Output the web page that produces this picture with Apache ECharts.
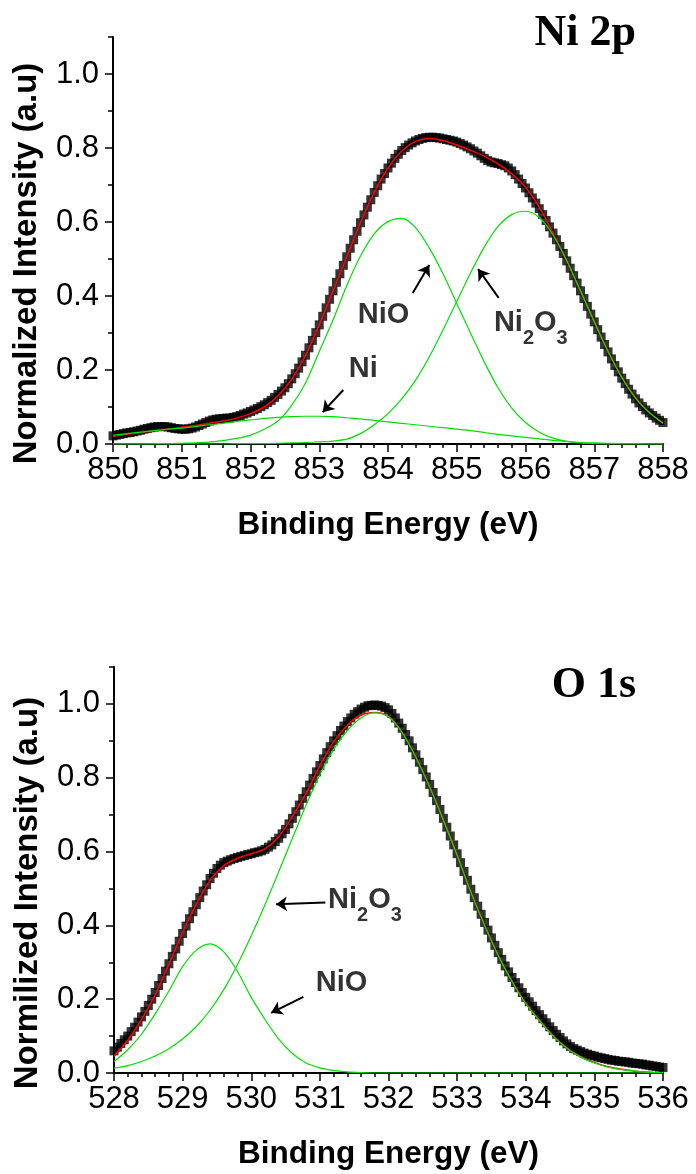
<!DOCTYPE html>
<html>
<head>
<meta charset="utf-8">
<script src="https://cdn.jsdelivr.net/npm/echarts@6/dist/echarts.min.js"></script>
<style>
html, body { margin: 0; padding: 0; background: #fff; }
#main { width: 696px; height: 1174px; }
</style>
</head>
<body>
<div id="main"></div>
<script>
// ---- Ni 2p panel (binding energy 850 - 858 eV) ----
var niStart = 850, niStep = 0.05, niFitStep = 0.2;
// measured spectrum, one value every 0.05 eV
var niData = [
  .022,.024,.026,.028,.030,.031,.033,.035,.037,.040,
  .042,.044,.046,.047,.047,.047,.046,.044,.042,.041,
  .040,.040,.041,.043,.046,.050,.054,.058,.062,.065,
  .067,.068,.069,.070,.070,.072,.074,.077,.081,.084,
  .088,.092,.096,.101,.106,.112,.118,.126,.134,.143,
  .152,.163,.176,.190,.205,.222,.240,.260,.280,.301,
  .322,.345,.368,.391,.414,.437,.460,.483,.506,.529,
  .552,.575,.598,.619,.640,.660,.680,.698,.716,.731,
  .746,.759,.772,.783,.793,.801,.808,.814,.819,.823,
  .826,.828,.829,.829,.828,.827,.825,.823,.821,.819,
  .816,.812,.808,.803,.798,.792,.786,.779,.772,.766,
  .762,.760,.758,.755,.752,.746,.738,.728,.716,.704,
  .692,.679,.665,.651,.636,.620,.604,.587,.570,.552,
  .534,.515,.495,.475,.455,.435,.414,.393,.372,.351,
  .330,.309,.289,.269,.249,.230,.212,.195,.178,.163,
  .148,.135,.122,.111,.101,.092,.084,.077,.070,.064,
  .058
];
// fit envelope and components, one value every 0.2 eV
var niFit = [
  .020,.026,.031,.036,.040,.045,.050,.056,.062,.070,
  .082,.100,.130,.175,.240,.322,.414,.506,.598,.680,
  .746,.792,.818,.826,.820,.808,.794,.778,.757,.730,
  .694,.640,.570,.494,.414,.332,.252,.182,.126,.086,
  .058
];
var niMetal = [
  .024,.028,.032,.036,.040,.043,.047,.052,.056,.061,
  .065,.069,.072,.074,.075,.075,.074,.071,.068,.064,
  .060,.056,.052,.048,.044,.040,.036,.031,.026,.022,
  .018,.014,.010,.007,.004,.003,.002,.001,.001,.000,
  .000
];
var niNiO = [
  .000,.000,.000,.001,.001,.002,.003,.005,.009,.015,
  .024,.040,.062,.105,.165,.250,.335,.428,.508,.568,
  .601,.610,.585,.530,.460,.380,.300,.222,.152,.097,
  .058,.032,.016,.007,.003,.001,.000,.000,.000,.000,
  .000
];
var niNi2O3 = [
  .000,.000,.000,.000,.000,.000,.000,.000,.000,.001,
  .001,.001,.002,.003,.004,.006,.008,.013,.028,.052,
  .082,.122,.172,.235,.308,.385,.462,.532,.588,.620,
  .629,.612,.565,.496,.414,.330,.250,.180,.124,.085,
  .056
];

// ---- O 1s panel (binding energy 528 - 536 eV) ----
var oStart = 528, oStep = 0.05, oFitStep = 0.2;
var oData = [
  .060,.070,.080,.090,.100,.112,.124,.138,.152,.167,
  .183,.200,.218,.237,.256,.276,.296,.316,.336,.357,
  .378,.398,.418,.437,.456,.475,.493,.510,.527,.541,
  .554,.563,.570,.574,.578,.581,.584,.587,.589,.592,
  .594,.597,.599,.602,.606,.612,.618,.627,.636,.648,
  .660,.675,.690,.708,.726,.744,.762,.780,.798,.816,
  .833,.851,.868,.884,.900,.914,.928,.940,.952,.962,
  .972,.979,.986,.991,.995,.996,.997,.996,.994,.990,
  .984,.974,.962,.948,.934,.917,.900,.881,.862,.842,
  .822,.802,.782,.760,.738,.714,.690,.666,.642,.618,
  .594,.570,.546,.522,.498,.475,.452,.430,.408,.387,
  .366,.346,.326,.308,.290,.274,.259,.245,.231,.218,
  .205,.193,.181,.169,.158,.147,.136,.125,.115,.105,
  .096,.087,.079,.072,.066,.062,.058,.054,.051,.048,
  .046,.043,.041,.039,.037,.035,.034,.032,.031,.030,
  .029,.027,.026,.025,.024,.022,.021,.019,.018,.016,
  .015
];
var oFit = [
  .045,.088,.145,.212,.295,.380,.458,.522,.562,.582,
  .594,.607,.640,.695,.758,.832,.897,.942,.970,.977,
  .966,.923,.856,.776,.686,.591,.491,.401,.319,.249,
  .189,.143,.101,.068,.044,.028,.017,.010,.005,.002,
  .001
];
var oNiO = [
  .031,.063,.105,.160,.222,.288,.333,.350,.328,.275,
  .205,.145,.092,.053,.027,.014,.007,.003,.001,.000,
  .000,.000,.000,.000,.000,.000,.000,.000,.000,.000,
  .000,.000,.000,.000,.000,.000,.000,.000,.000,.000,
  .000
];
var oNi2O3 = [
  .013,.020,.031,.046,.066,.092,.126,.170,.226,.294,
  .372,.456,.545,.636,.726,.808,.876,.928,.962,.976,
  .965,.922,.855,.775,.685,.590,.490,.400,.318,.248,
  .188,.142,.100,.067,.043,.027,.016,.009,.005,.002,
  .001
];

var yTicks = [0, 0.2, 0.4, 0.6, 0.8, 1.0];

// label anchors (left edge, vertical middle) and arrows, in data units
var niNotes = [
  { value: [853.56, 0.349], text: 'NiO' },
  { value: [853.43, 0.203], text: 'Ni' },
  { value: [855.54, 0.311], text: '{m|Ni}{s|2}{m|O}{s|3}' }
];
var niArrows = [
  [[854.36, 0.408], [854.60, 0.484]],
  [[855.61, 0.395], [855.31, 0.473]],
  [[853.35, 0.146], [853.05, 0.086]]
];
var oNotes = [
  { value: [531.12, 0.454], text: '{m|Ni}{s|2}{m|O}{s|3}' },
  { value: [530.94, 0.243], text: 'NiO' }
];
var oArrows = [
  [[531.08, 0.462], [530.36, 0.457]],
  [[530.76, 0.206], [530.29, 0.163]]
];

var sans = 'Liberation Sans, Arial, sans-serif';
var serif = 'Liberation Serif, Times New Roman, serif';

function pairs(start, step, vals) {
  return vals.map(function (v, i) { return [+(start + i * step).toFixed(2), v]; });
}

function xAxisFor(g, min, max) {
  return {
    gridIndex: g, type: 'value', min: min, max: max, interval: 1,
    name: 'Binding Energy (eV)', nameLocation: 'middle', nameGap: 65,
    nameTextStyle: { fontSize: 31.5, fontWeight: 'bold', color: '#000', fontFamily: sans },
    axisLine: { onZero: false, lineStyle: { color: '#000', width: 2 } },
    axisTick: { length: 8, lineStyle: { color: '#000', width: 1.5 } },
    minorTick: { show: true, splitNumber: 5, length: 4, lineStyle: { color: '#000', width: 1.5 } },
    axisLabel: { fontSize: 31, color: '#000', margin: 11, fontFamily: sans },
    splitLine: { show: false }
  };
}

function yAxesFor(g, title) {
  return [{
    gridIndex: g, type: 'value', position: 'left', min: 0, max: 1.1, interval: 0.1,
    name: title, nameLocation: 'middle', nameGap: 70,
    nameTextStyle: { fontSize: 33, fontWeight: 'bold', color: '#000', fontFamily: sans, padding: [0, 46, 0, 0] },
    axisLine: { onZero: false, lineStyle: { color: '#000', width: 2 } },
    axisTick: { length: 5, lineStyle: { color: '#000', width: 1.5 } },
    axisLabel: {
      fontSize: 31, color: '#000', margin: 14, fontFamily: sans,
      formatter: function (v) {
        var t = Math.round(v * 10);
        return (t % 2 === 0 && t <= 10) ? (t / 10).toFixed(1) : '';
      }
    },
    splitLine: { show: false }
  }, {
    gridIndex: g, type: 'value', position: 'left', min: 0, max: 1.1, interval: 0.1,
    axisLine: { show: false },
    axisTick: { show: true, customValues: yTicks, length: 8, lineStyle: { color: '#000', width: 1.5 } },
    axisLabel: { show: false },
    splitLine: { show: false }
  }];
}

function panelSeries(g, start, step, fitStep, data, fit, comps, notes, arrows) {
  var s = [{
    type: 'scatter', xAxisIndex: g, yAxisIndex: 2 * g, z: 2,
    symbol: 'rect', symbolSize: 9, itemStyle: { color: '#000' },
    data: pairs(start, step, data)
  }, {
    type: 'line', xAxisIndex: g, yAxisIndex: 2 * g, z: 3, smooth: 0.3,
    showSymbol: false, lineStyle: { color: '#ff0000', width: 1.5 },
    data: pairs(start, fitStep, fit)
  }];
  comps.forEach(function (c) {
    s.push({
      type: 'line', xAxisIndex: g, yAxisIndex: 2 * g, z: 4, smooth: 0.3,
      showSymbol: false, lineStyle: { color: '#00e000', width: 1.2 },
      data: pairs(start, fitStep, c)
    });
  });
  s.push({
    type: 'scatter', xAxisIndex: g, yAxisIndex: 2 * g, z: 5, silent: true,
    symbolSize: 0, itemStyle: { color: 'rgba(0,0,0,0)' },
    label: {
      show: true, position: 'right', distance: 0,
      color: '#000', fontSize: 29, fontWeight: 'bold', fontFamily: sans,
      formatter: function (p) { return p.data.text; },
      rich: {
        m: { fontSize: 29, fontWeight: 'bold', fontFamily: sans, color: '#000', lineHeight: 40, verticalAlign: 'top' },
        s: { fontSize: 20, fontWeight: 'bold', fontFamily: sans, color: '#000', lineHeight: 40, verticalAlign: 'bottom' }
      }
    },
    data: notes,
    markLine: {
      silent: true, symbol: ['none', 'arrow'], symbolSize: 11,
      lineStyle: { color: '#000', width: 2, type: 'solid' },
      label: { show: false },
      data: arrows.map(function (a) { return [{ coord: a[0] }, { coord: a[1] }]; })
    }
  });
  return s;
}

var chart = echarts.init(document.getElementById('main'));
var option = {
  animation: false,
  backgroundColor: '#fff',
  title: [
    { text: 'Ni 2p', right: 60, top: 12, padding: 0,
      textStyle: { fontFamily: serif, fontWeight: 'bold', fontSize: 44, color: '#000' } },
    { text: 'O 1s', right: 60, top: 664, padding: 0,
      textStyle: { fontFamily: serif, fontWeight: 'bold', fontSize: 44, color: '#000' } }
  ],
  grid: [
    { left: 113, width: 550, top: 37, height: 407 },
    { left: 114, width: 549, top: 667, height: 406 }
  ],
  xAxis: [xAxisFor(0, 850, 858), xAxisFor(1, 528, 536)],
  yAxis: yAxesFor(0, 'Normalized Intensity (a.u)').concat(yAxesFor(1, 'Normilized Intensity (a.u)')),
  series: panelSeries(0, niStart, niStep, niFitStep, niData, niFit, [niMetal, niNiO, niNi2O3], niNotes, niArrows)
    .concat(panelSeries(1, oStart, oStep, oFitStep, oData, oFit, [oNiO, oNi2O3], oNotes, oArrows))
};
chart.setOption(option);
</script>
</body>
</html>
